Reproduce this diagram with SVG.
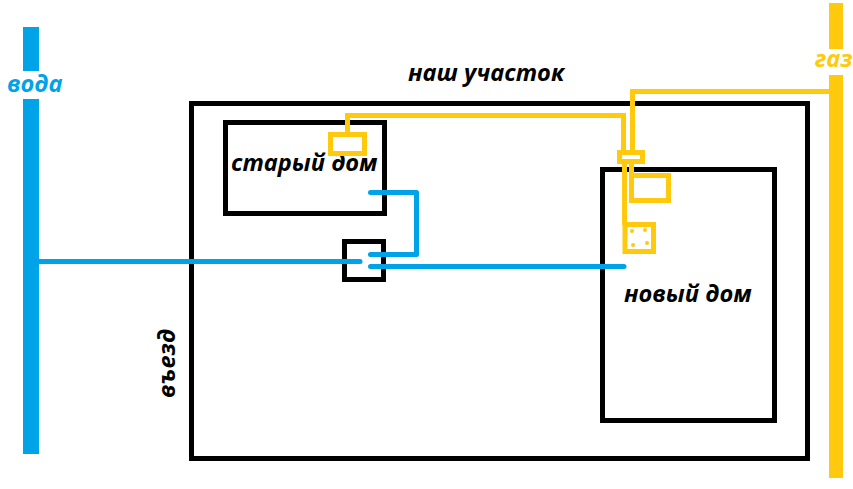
<svg xmlns="http://www.w3.org/2000/svg" width="853" height="489" viewBox="0 0 853 489">
<style>
.k{fill:none;stroke:#000;stroke-width:5}
.y{fill:none;stroke:#FFC90E;stroke-width:5}
.b{fill:none;stroke:#00A2E8;stroke-width:5;stroke-linecap:round;stroke-linejoin:round}
.d{fill:#FFC90E}
text{font-family:"Open Sans","Noto Sans",sans-serif;font-weight:700;font-style:italic;font-size:23.6px;fill:#000}
</style>
<rect width="853" height="489" fill="#fff"/>
<g id="plot"><rect class="k" x="191.500" y="103.500" width="616" height="355"/><text x="408" y="81">наш участок</text></g>
<g id="entry"><text transform="translate(175 398) rotate(-90)">въезд</text></g>
<g id="old-house"><rect class="k" x="225.500" y="122.500" width="159" height="91"/><text x="231" y="171">старый дом</text></g>
<g id="new-house"><rect class="k" x="602.500" y="169.500" width="172" height="251"/><text x="624" y="302">новый дом</text></g>
<g id="well"><rect class="k" x="344.500" y="241.500" width="39" height="38"/></g>
<g id="water-main"><rect x="23" y="27" width="16" height="427" fill="#00A2E8"/><rect x="0" y="71" width="70" height="28" fill="#fff"/><text x="7" y="92" style="fill:#00A2E8">вода</text></g>
<g id="gas-main"><rect x="829" y="3" width="14" height="475" fill="#FFC90E"/><rect x="812" y="49" width="41" height="26" fill="#fff"/><text x="815" y="67" style="fill:#FFC90E">газ</text></g>
<g id="connectors">
<path class="b" d="M39 261.500H360"/>
<path class="b" d="M370.500 192.500H416.500V254.500H370.500"/>
<path class="b" d="M370.500 266.500H624"/>
<path class="y" d="M347.500 134V115.500H623.500V152"/>
<path class="y" d="M829 91.500H632.500V152"/>
<path class="y" d="M624.500 162V225"/>
<path class="y" d="M631.500 162V176"/>
</g>
<g id="gas-valve"><rect class="y" x="619.500" y="152.500" width="23" height="9"/></g>
<g id="old-meter"><rect class="y" x="330.500" y="134.500" width="34" height="19"/></g>
<g id="new-meter"><rect class="y" x="631.500" y="175.500" width="37" height="25"/></g>
<g id="boiler"><rect class="y" x="625" y="224.500" width="28.500" height="27"/><circle class="d" cx="632" cy="231" r="2"/><circle class="d" cx="645" cy="230" r="2"/><circle class="d" cx="633" cy="245" r="2"/><circle class="d" cx="647" cy="243" r="2"/></g>
</svg>
